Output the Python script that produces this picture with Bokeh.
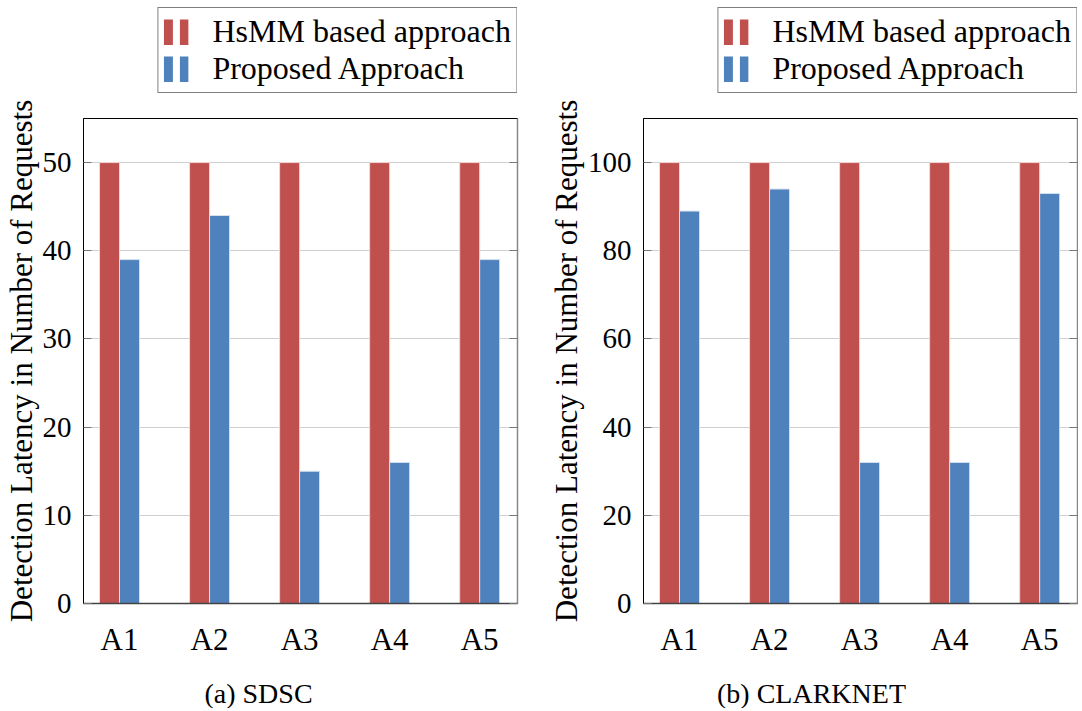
import numpy as np
from bokeh.plotting import figure
from bokeh.models import (ColumnDataSource, FixedTicker, LinearAxis, Range1d,
                          Legend, LegendItem, Label)
from bokeh.layouts import row, column
from bokeh.transform import dodge
from bokeh.embed import file_html
from bokeh.resources import INLINE

# ---------------- data ----------------
categories = ["A1", "A2", "A3", "A4", "A5"]
series_names = ["HsMM based approach", "Proposed Approach"]

sdsc_hsmm = [50, 50, 50, 50, 50]
sdsc_proposed = [39, 44, 15, 16, 39]
sdsc_yticks = [0, 10, 20, 30, 40, 50]

clark_hsmm = [100, 100, 100, 100, 100]
clark_proposed = [89, 94, 32, 32, 93]
clark_yticks = [0, 20, 40, 60, 80, 100]

captions = ["(a) SDSC", "(b) CLARKNET"]
y_label = "Detection Latency in Number of Requests"

# ---------------- style ----------------
RED = "#C0504D"
BLUE = "#4F81BD"
FONT = "Liberation Serif"
BAR_W = 0.222


def legend_fig(width, right_border):
    t = figure(width=width, height=93, x_range=Range1d(0, 1), y_range=Range1d(0, 1),
               x_axis_type=None, y_axis_type=None, output_backend="svg",
               toolbar_location=None, min_border_left=0, min_border_right=right_border,
               min_border_top=0, min_border_bottom=0, outline_line_color=None)
    # legend proxies (kept outside the visible range): a thick dashed
    # line renders as the two small bars of the reference legend
    r1 = t.line(x=[2, 3], y=[2, 2], line_width=26, line_dash="9 7", line_color=RED)
    r2 = t.line(x=[2, 3], y=[3, 3], line_width=26, line_dash="9 7", line_color=BLUE)
    legend = Legend(items=[LegendItem(label=series_names[0], renderers=[r1]),
                           LegendItem(label=series_names[1], renderers=[r2])],
                    location="bottom_right")
    legend.border_line_color = "black"
    legend.border_line_width = 1
    legend.background_fill_alpha = 1
    legend.label_text_font = FONT
    legend.label_text_font_size = "32px"
    legend.label_text_color = "black"
    legend.glyph_width = 25
    legend.glyph_height = 26
    legend.label_height = 36
    legend.label_standoff = 24
    legend.padding = 5
    legend.spacing = 0
    legend.margin = 0
    t.add_layout(legend)
    return t


def caption_fig(width, text, cx):
    b = figure(width=width, height=45, x_range=Range1d(0, 1), y_range=Range1d(0, 1),
               x_axis_type=None, y_axis_type=None, output_backend="svg",
               toolbar_location=None, min_border=0, outline_line_color=None)
    b.add_layout(Label(x=cx, y=15, x_units="screen", y_units="screen",
                       text=text, text_align="center", text_baseline="middle",
                       text_font=FONT, text_font_size="28px", text_color="black"))
    return b


def make_panel(hsmm, proposed, yticks, ymax, left_border, right_border):
    xs = list(range(1, len(categories) + 1))
    src = ColumnDataSource(dict(x=xs, hsmm=hsmm, proposed=proposed))
    p = figure(frame_width=434, frame_height=485,
               x_range=Range1d(0.6, 5.42), y_range=Range1d(0, ymax),
               output_backend="svg", toolbar_location=None,
               min_border_left=left_border, min_border_right=right_border,
               min_border_top=25, min_border_bottom=60,
               background_fill_color="white", border_fill_color="white")
    p.outline_line_color = "black"
    p.outline_line_width = 1

    p.vbar(x=dodge("x", -BAR_W / 2, range=p.x_range), top="hsmm", width=BAR_W,
           source=src, fill_color=RED, line_color="#f2d6d5", line_width=1)
    p.vbar(x=dodge("x", BAR_W / 2, range=p.x_range), top="proposed", width=BAR_W,
           source=src, fill_color=BLUE, line_color="#d5e1ef", line_width=1)

    # x axis
    p.xaxis.ticker = FixedTicker(ticks=xs)
    p.xaxis.major_label_overrides = {x: c for x, c in zip(xs, categories)}
    p.xaxis.major_tick_in = 0
    p.xaxis.major_tick_out = 0
    p.xaxis.minor_tick_line_color = None
    p.xaxis.axis_line_color = "#444444"
    p.xaxis.axis_line_width = 1.5
    p.xaxis.major_label_text_font = FONT
    p.xaxis.major_label_text_font_size = "31px"
    p.xaxis.major_label_text_color = "black"
    p.xaxis.major_label_standoff = 18

    # y axis
    p.yaxis.ticker = FixedTicker(ticks=yticks)
    p.yaxis.major_tick_in = 8
    p.yaxis.major_tick_out = 0
    p.yaxis.major_tick_line_color = "#777777"
    p.yaxis.minor_tick_line_color = None
    p.yaxis.axis_line_color = "black"
    p.yaxis.major_label_text_font = FONT
    p.yaxis.major_label_text_font_size = "29px"
    p.yaxis.major_label_text_color = "black"
    p.yaxis.major_label_standoff = 12
    p.yaxis.axis_label = y_label
    p.yaxis.axis_label_text_font = FONT
    p.yaxis.axis_label_text_font_size = "31px"
    p.yaxis.axis_label_text_font_style = "normal"
    p.yaxis.axis_label_text_color = "black"
    p.yaxis.axis_label_standoff = 1

    rax = LinearAxis(ticker=FixedTicker(ticks=yticks))
    rax.major_label_text_font_size = "0px"
    rax.major_label_standoff = 0
    rax.major_tick_in = 8
    rax.major_tick_out = 0
    rax.major_tick_line_color = "#777777"
    rax.minor_tick_line_color = None
    rax.axis_line_color = "#888888"
    rax.axis_line_width = 1.5
    p.add_layout(rax, "right")

    p.xgrid.visible = False
    p.ygrid.ticker = FixedTicker(ticks=yticks)
    p.ygrid.grid_line_color = "#cfcfcf"
    p.ygrid.grid_line_width = 1
    return p


p1 = make_panel(sdsc_hsmm, sdsc_proposed, sdsc_yticks, 55, 83, 27)
p2 = make_panel(clark_hsmm, clark_proposed, clark_yticks, 110, 99, 1)

t1 = legend_fig(544, 27)
t2 = legend_fig(534, 1)
b1 = caption_fig(544, captions[0], 258)
b2 = caption_fig(534, captions[1], 267)

layout = column(row(t1, t2), row(p1, p2), row(b1, b2))
open("out.html", "w").write(file_html(layout, INLINE))
